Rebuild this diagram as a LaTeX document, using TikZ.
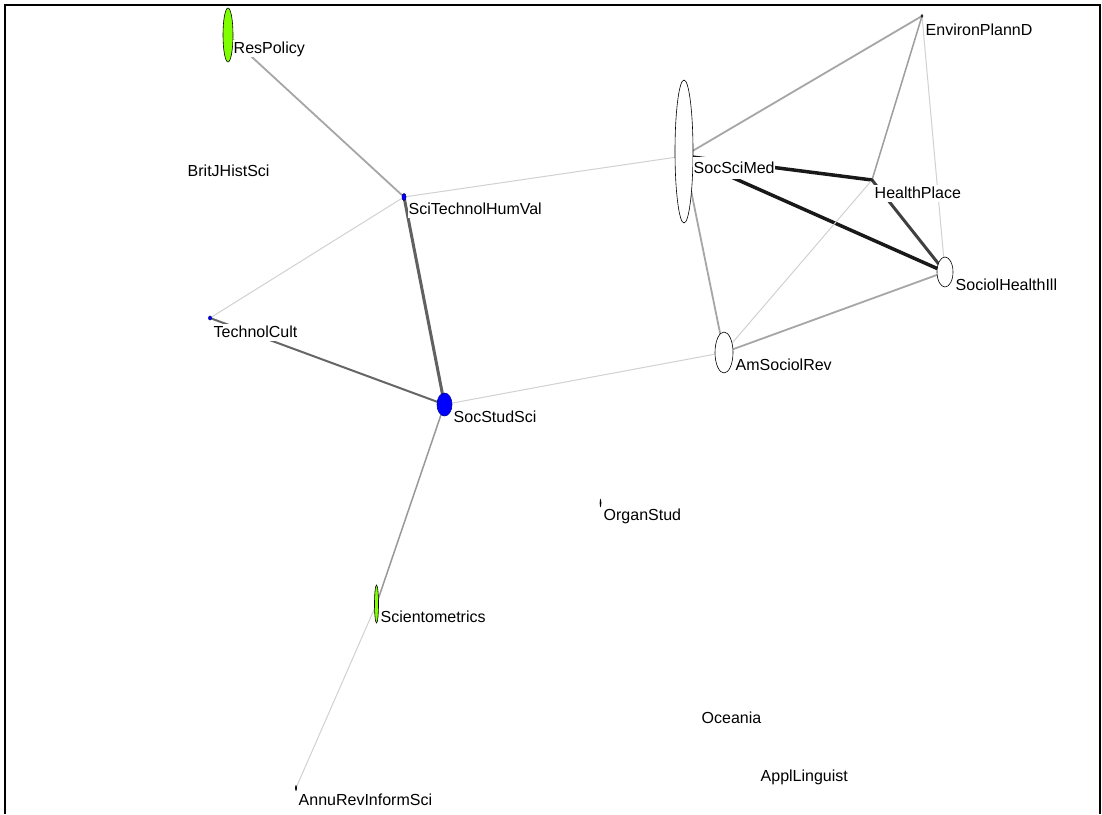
\documentclass[tikz,border=0pt]{standalone}
\usepackage{fontspec}
\setmainfont{Liberation Sans}
\usetikzlibrary{shapes.geometric}
\begin{document}
\begin{tikzpicture}[x=1pt,y=-1pt,
  vert/.style={ellipse,draw=black,line width=0.6pt,inner sep=0pt},
  lab/.style={anchor=base west,inner sep=0.5pt,fill=white,text height=12.5pt,text depth=3.5pt,font=\fontsize{16}{18}\selectfont},
  elight/.style={draw=black!18,line width=1pt},
  emid/.style={draw=black!35,line width=1.8pt},
  edark/.style={draw=black!60,line width=2pt},
  edarker/.style={draw=black!62,line width=3pt},
  eblack/.style={draw=black!90,line width=3.5pt}]
\useasboundingbox (0,0) rectangle (1102,814);
\fill[white] (0,0) rectangle (1102,814);
% frame
\draw[line width=2pt] (5,814) -- (5,5) -- (1100,5) -- (1100,814);

% vertex centres
\coordinate (resp) at (228,35);
\coordinate (scit) at (404,197);
\coordinate (tech) at (210,318);
\coordinate (socs) at (444.5,404.5);
\coordinate (scim) at (376.5,604);
\coordinate (annu) at (296,788);
\coordinate (orga) at (600.5,503);
\coordinate (ssm) at (684,156);
\coordinate (hpl) at (872,180);
\coordinate (shi) at (945,272);
\coordinate (env) at (922,16);
\coordinate (asr) at (724,352.5);

% edges
\draw[emid] (resp) -- (scit);
\draw[edarker] (scit) -- (socs);
\draw[elight] (scit) -- (tech);
\draw[elight] (scit) -- (ssm);
\draw[edark] (tech) -- (socs);
\draw[elight] (socs) -- (asr);
\draw[draw=black!40,line width=1.5pt] (socs) -- (scim);
\draw[elight] (scim) -- (annu);
\draw[emid] (ssm) -- (env);
\draw[eblack] (ssm) -- (hpl);
\draw[eblack] (ssm) -- (shi);
\draw[emid] (ssm) -- (asr);
\draw[draw=black!38,line width=1.5pt] (env) -- (hpl);
\draw[elight] (env) -- (shi);
\draw[draw=black!75,line width=3pt] (hpl) -- (shi);
\draw[elight] (hpl) -- (asr);
\draw[emid] (shi) -- (asr);

% vertices
\node[vert,fill={rgb,255:red,128;green,255;blue,0},minimum width=10pt,minimum height=54pt] (vresp) at (resp) {};
\node[vert,fill=blue,draw=blue!60!black,minimum width=4pt,minimum height=7pt] (vscit) at (scit) {};
\node[vert,fill=blue,draw=blue!60!black,minimum width=3pt,minimum height=4pt] (vtech) at (tech) {};
\node[vert,fill=blue,draw=blue!60!black,minimum width=15pt,minimum height=23pt] (vsocs) at (socs) {};
\node[vert,fill={rgb,255:red,128;green,255;blue,0},minimum width=4pt,minimum height=38pt] (vscim) at (scim) {};
\node[vert,fill=black,minimum width=1pt,minimum height=5pt] (vannu) at (annu) {};
\node[vert,fill=black,minimum width=1pt,minimum height=7pt] (vorga) at (orga) {};
\node[vert,fill=white,minimum width=18pt,minimum height=143pt] (vssm) at (684,151.5) {};
\node[vert,fill=white,minimum width=2pt,minimum height=3pt] (vhpl) at (hpl) {};
\node[vert,fill=white,minimum width=16pt,minimum height=30pt] (vshi) at (shi) {};
\node[vert,fill=white,minimum width=2pt,minimum height=3pt] (venv) at (env) {};
\node[vert,fill=white,minimum width=18pt,minimum height=41pt] (vasr) at (asr) {};

% labels
\node[lab] (lresp) at (233,53) {ResPolicy};
\node[lab] (lbrit) at (187,176) {BritJHistSci};
\node[lab] (lscit) at (408,214) {SciTechnolHumVal};
\node[lab] (ltech) at (213,337) {TechnolCult};
\node[lab] (lsocs) at (453,422) {SocStudSci};
\node[lab] (lscim) at (380,622) {Scientometrics};
\node[lab] (lannu) at (298,805) {AnnuRevInformSci};
\node[lab] (lorga) at (603,520) {OrganStud};
\node[lab] (locea) at (701,723) {Oceania};
\node[lab] (lappl) at (760,781) {ApplLinguist};
\node[lab,text height=15.5pt,text depth=5pt] (lssm) at (693,173) {SocSciMed};
\node[lab] (lhpl) at (874,198) {HealthPlace};
\node[lab] (lshi) at (955,290) {SociolHealthIll};
\node[lab] (lenv) at (925,35) {EnvironPlannD};
\node[lab] (lasr) at (735,370) {AmSociolRev};
\end{tikzpicture}
\end{document}
